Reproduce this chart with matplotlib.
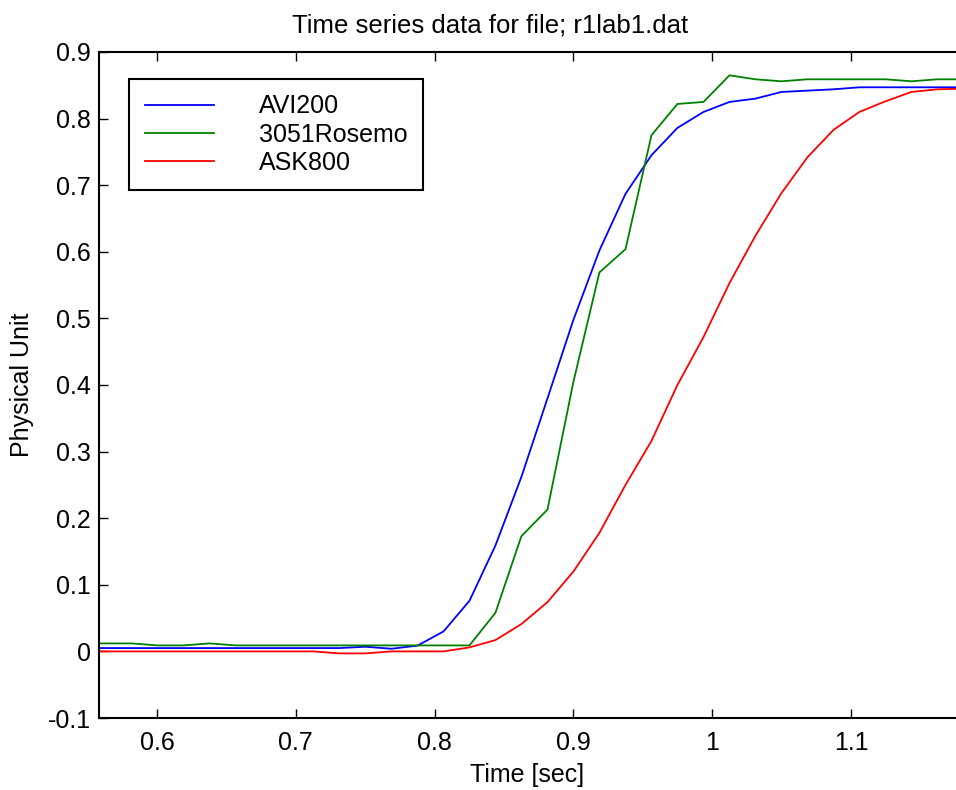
import matplotlib
matplotlib.use("Agg")
import matplotlib.pyplot as plt

plt.rcParams["font.family"] = ["Liberation Sans", "DejaVu Sans"]

# sample times [sec]
time = [0.5441, 0.5629, 0.5816, 0.6003, 0.6191, 0.6378, 0.6565, 0.6752,
        0.6940, 0.7127, 0.7314, 0.7502, 0.7689, 0.7876, 0.8064, 0.8251,
        0.8438, 0.8625, 0.8813, 0.9000, 0.9187, 0.9375, 0.9562, 0.9749,
        0.9937, 1.0124, 1.0311, 1.0498, 1.0686, 1.0873, 1.1060, 1.1248,
        1.1435, 1.1622, 1.1810]

avi200 = [0.005, 0.005, 0.005, 0.005, 0.005, 0.005, 0.005, 0.005,
          0.005, 0.005, 0.005, 0.007, 0.004, 0.0086, 0.030, 0.076,
          0.159, 0.262, 0.380, 0.498, 0.602, 0.687, 0.745, 0.786,
          0.810, 0.825, 0.830, 0.840, 0.842, 0.844, 0.847, 0.847,
          0.847, 0.847, 0.847]

rosemount = [0.012, 0.012, 0.012, 0.009, 0.009, 0.012, 0.009, 0.009,
             0.009, 0.009, 0.009, 0.009, 0.009, 0.009, 0.009, 0.009,
             0.058, 0.173, 0.213, 0.405, 0.569, 0.604, 0.775, 0.822,
             0.825, 0.865, 0.859, 0.856, 0.859, 0.859, 0.859, 0.859,
             0.856, 0.859, 0.859]

ask800 = [0.0, 0.0, 0.0, 0.0, 0.0, 0.0, 0.0, 0.0,
          0.0, 0.0, -0.003, -0.003, 0.0, 0.0, 0.0, 0.006,
          0.017, 0.041, 0.074, 0.120, 0.178, 0.250, 0.316, 0.400,
          0.472, 0.553, 0.624, 0.688, 0.742, 0.783, 0.810, 0.826,
          0.840, 0.844, 0.845]

labels = ["AVI200", "3051Rosemo", "ASK800"]
yticks = [-0.1, 0, 0.1, 0.2, 0.3, 0.4, 0.5, 0.6, 0.7, 0.8, 0.9]
ytick_labels = ["-0.1", "0", "0.1", "0.2", "0.3", "0.4", "0.5", "0.6", "0.7", "0.8", "0.9"]
xticks = [0.6, 0.7, 0.8, 0.9, 1.0, 1.1]
xtick_labels = ["0.6", "0.7", "0.8", "0.9", "1", "1.1"]

fig = plt.figure(figsize=(9.56, 7.90), dpi=100)
ax = fig.add_axes([99 / 956, 1 - 718 / 790, 857 / 956, 666 / 790])

fs = 18
ax.plot(time, avi200, color="#0000ff", lw=1.3, label=labels[0])
ax.plot(time, rosemount, color="#008000", lw=1.3, label=labels[1])
ax.plot(time, ask800, color="#ff0000", lw=1.3, label=labels[2])

ax.set_xlim(0.5582, 1.1756)
ax.set_ylim(-0.1, 0.9)
ax.set_xticks(xticks)
ax.set_xticklabels(xtick_labels)
ax.set_yticks(yticks)
ax.set_yticklabels(ytick_labels)
ax.tick_params(direction="in", length=6.5, width=1, labelsize=fs,
               top=True, right=False)
ax.tick_params(axis="x", pad=9)
ax.tick_params(axis="y", pad=6)
for side in ["left", "top", "bottom"]:
    ax.spines[side].set_linewidth(1.5)
ax.spines["right"].set_visible(False)

ax.set_title("Time series data for file; r1lab1.dat", fontsize=18.5, pad=14,
             x=(490 - 99) / 857)
ax.set_xlabel("Time [sec]", fontsize=fs, labelpad=6)
ax.set_ylabel("Physical Unit", fontsize=fs, labelpad=10)

leg = ax.legend(loc="upper left", bbox_to_anchor=(30 / 857, (718 - 79) / 666),
                borderaxespad=0, fontsize=fs, fancybox=False, framealpha=1,
                edgecolor="black", handlelength=2.76, handletextpad=1.8,
                labelspacing=0.17, borderpad=0.62)
leg.get_frame().set_linewidth(1.5)

fig.savefig("out.png", dpi=100)
